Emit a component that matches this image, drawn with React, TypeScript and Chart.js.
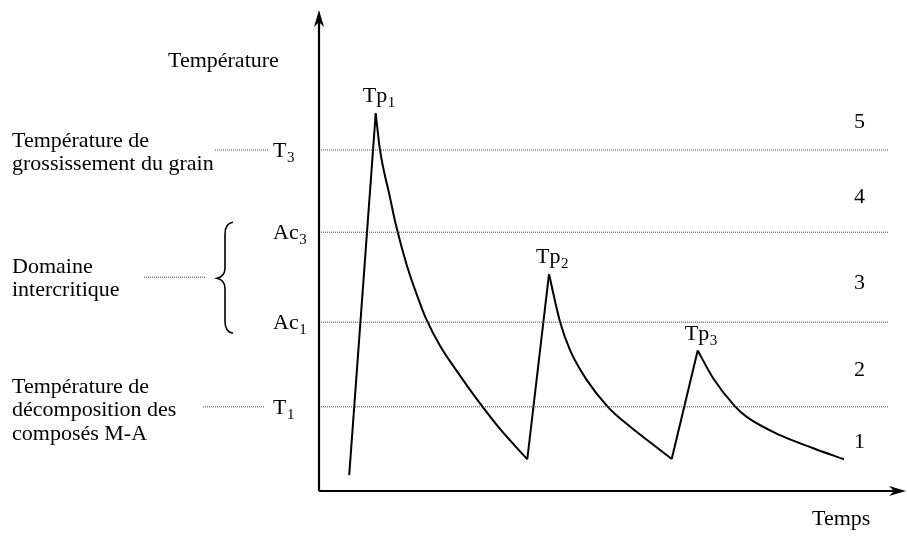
import React, { useEffect, useRef } from "react";
import { Chart, registerables } from "chart.js";

Chart.register(...registerables);

// ---- Data (schematic units: time 0..100, temperature 0..100) ----
const timeValues = [
  5.3, 9.95, 10.7, 12.46, 13.46, 15.39, 17.72, 18.72, 21.23, 24.74, 28.25, 31.75, 36.54,
  40.35, 42.28, 44.04, 46.96, 50.75, 54.56, 58.65, 61.88,
  66.44, 69.18, 72.98, 75.04, 80.88, 86.72, 92.11,
];
const temperatureValues = [
  3.3, 78.5, 70.9, 61.0, 55.5, 47.0, 39.0, 36.0, 30.2, 24.0, 18.2, 12.9, 6.6,
  45.1, 35.2, 29.3, 23.1, 17.4, 13.4, 9.6, 6.65,
  29.2, 23.4, 17.6, 15.4, 11.6, 8.9, 6.6,
];
// indices where the curve changes from heating (straight) to cooling (curved)
const breakIndices = [0, 1, 12, 13, 20, 21, 27];

const levelBases = ["T", "Ac", "Ac", "T"];
const levelSubs = ["3", "3", "1", "1"];
const levelValues = [70.9, 53.8, 35.1, 17.5];

const peakSubs = ["1", "2", "3"];
const peakTimes = [9.95, 40.35, 66.44];
const peakTemps = [78.5, 45.1, 29.2];

const zoneLabels = ["1", "2", "3", "4", "5"];
const zoneValues = [10.4, 25.4, 43.5, 61.3, 76.9];

const yAxisTitle = "Température";
const xAxisTitle = "Temps";
const noteGrain = ["Température de", "grossissement du grain"];
const noteInter = ["Domaine", "intercritique"];
const noteDecomp = ["Température de", "décomposition des", "composés M-A"];

const FONT_FAMILY = '"Liberation Serif", serif';
const MAIN = `22px ${FONT_FAMILY}`;
const SUB = `15px ${FONT_FAMILY}`;

function drawSub(ctx: CanvasRenderingContext2D, base: string, sub: string, x: number, y: number, align: "left" | "center") {
  ctx.font = MAIN;
  const wb = ctx.measureText(base).width;
  ctx.font = SUB;
  const ws = ctx.measureText(sub).width;
  const x0 = align === "center" ? x - (wb + ws) / 2 : x;
  ctx.textAlign = "left";
  ctx.textBaseline = "alphabetic";
  ctx.font = MAIN;
  ctx.fillText(base, x0, y);
  ctx.font = SUB;
  ctx.fillText(sub, x0 + wb + 0.5, y + 5);
}

function dotted(ctx: CanvasRenderingContext2D, x1: number, x2: number, y: number) {
  ctx.save();
  ctx.strokeStyle = "#444";
  ctx.lineWidth = 1;
  ctx.setLineDash([1, 1]);
  ctx.beginPath();
  ctx.moveTo(x1, y);
  ctx.lineTo(x2, y);
  ctx.stroke();
  ctx.restore();
}

const decorPlugin = {
  id: "decor",
  afterDatasetsDraw(chart: any) {
    const ctx: CanvasRenderingContext2D = chart.ctx;
    const xs = chart.scales.x;
    const ys = chart.scales.y;
    const area = chart.chartArea;
    const ax = area.left;
    const ay = area.bottom;
    ctx.save();
    ctx.fillStyle = "#000";
    ctx.strokeStyle = "#000";

    // axes
    ctx.lineWidth = 2.2;
    ctx.beginPath();
    ctx.moveTo(ax, ay);
    ctx.lineTo(ax, area.top + 8);
    ctx.moveTo(ax, ay);
    ctx.lineTo(chart.width - 4, ay);
    ctx.stroke();
    // arrowheads
    const tipY = area.top;
    ctx.beginPath();
    ctx.moveTo(ax, tipY);
    ctx.lineTo(ax + 5, tipY + 17);
    ctx.lineTo(ax, tipY + 12);
    ctx.lineTo(ax - 5, tipY + 17);
    ctx.closePath();
    ctx.fill();
    const tipX = chart.width - 1;
    ctx.beginPath();
    ctx.moveTo(tipX, ay);
    ctx.lineTo(tipX - 17, ay - 5);
    ctx.lineTo(tipX - 12, ay);
    ctx.lineTo(tipX - 17, ay + 5);
    ctx.closePath();
    ctx.fill();

    // axis titles
    ctx.font = MAIN;
    ctx.textAlign = "left";
    ctx.textBaseline = "alphabetic";
    ctx.fillText(yAxisTitle, 168, 67);
    ctx.fillText(xAxisTitle, 812, 525);

    // level labels
    levelValues.forEach((v, i) => {
      const py = ys.getPixelForValue(v);
      drawSub(ctx, levelBases[i], levelSubs[i], ax - 46, py + 7, "left");
    });

    // peak labels
    peakTimes.forEach((t, i) => {
      drawSub(ctx, "Tp", peakSubs[i], xs.getPixelForValue(t) + 3, ys.getPixelForValue(peakTemps[i]) - 11, "center");
    });

    // zone labels
    ctx.font = MAIN;
    ctx.textAlign = "left";
    ctx.textBaseline = "alphabetic";
    zoneLabels.forEach((l, i) => {
      ctx.fillText(l, 854, ys.getPixelForValue(zoneValues[i]) + 7);
    });

    // left notes
    const yT3 = ys.getPixelForValue(levelValues[0]);
    const yAc3 = ys.getPixelForValue(levelValues[1]);
    const yAc1 = ys.getPixelForValue(levelValues[2]);
    const yT1 = ys.getPixelForValue(levelValues[3]);
    const lh = 23;
    noteGrain.forEach((s, i) => ctx.fillText(s, 12, yT3 - 3 + i * lh));
    const yMid = (yAc3 + yAc1) / 2;
    noteInter.forEach((s, i) => ctx.fillText(s, 12, yMid - 4 + i * lh));
    noteDecomp.forEach((s, i) => ctx.fillText(s, 12, yT1 - 14 + i * 23.5));

    dotted(ctx, 215, 268, yT3);
    dotted(ctx, 144, 206, yMid);
    dotted(ctx, 203, 265, yT1);

    // brace
    ctx.lineWidth = 1.6;
    ctx.setLineDash([]);
    const bt = yAc3 - 10;
    const bb = yAc1 + 11;
    ctx.beginPath();
    ctx.moveTo(233, bt);
    ctx.quadraticCurveTo(225, bt + 1, 225, bt + 12);
    ctx.lineTo(225, yMid - 9);
    ctx.quadraticCurveTo(225, yMid - 1, 217, yMid + 1);
    ctx.quadraticCurveTo(225, yMid + 3, 225, yMid + 11);
    ctx.lineTo(225, bb - 12);
    ctx.quadraticCurveTo(225, bb - 1, 233, bb);
    ctx.stroke();

    ctx.restore();
  },
};

export default function App() {
  const ref = useRef<HTMLCanvasElement | null>(null);
  useEffect(() => {
    if (!ref.current) return;
    const levelSets = levelValues.map((v) => ({
      data: [{ x: 0, y: v }, { x: 100, y: v }],
      borderColor: "#444",
      borderWidth: 1,
      borderDash: [1, 1],
      pointRadius: 0,
      tension: 0,
    }));
    const curveSets: any[] = [];
    for (let s = 0; s < breakIndices.length - 1; s++) {
      const a = breakIndices[s];
      const b = breakIndices[s + 1];
      const pts = [];
      for (let i = a; i <= b; i++) pts.push({ x: timeValues[i], y: temperatureValues[i] });
      const cooling = s % 2 === 1;
      curveSets.push({
        data: pts,
        borderColor: "#000",
        borderWidth: 2,
        pointRadius: 0,
        tension: cooling ? 0.4 : 0,
        cubicInterpolationMode: cooling ? "monotone" : "default",
        borderJoinStyle: "miter",
        clip: false,
      });
    }
    const chart = new Chart(ref.current, {
      type: "line",
      data: { datasets: [...levelSets, ...curveSets] },
      options: {
        animation: false,
        responsive: false,
        maintainAspectRatio: false,
        devicePixelRatio: 1,
        layout: { padding: { left: 319, right: 18, top: 10, bottom: 46 } },
        plugins: { legend: { display: false }, tooltip: { enabled: false } },
        scales: {
          x: { type: "linear", min: 0, max: 100, display: false },
          y: { type: "linear", min: 0, max: 100, display: false },
        },
      },
      plugins: [decorPlugin],
    });
    return () => chart.destroy();
  }, []);
  return (
    <canvas
      ref={ref}
      width={907}
      height={537}
      style={{ position: "absolute", left: 0, top: 0, display: "block", background: "#fff" }}
    />
  );
}
